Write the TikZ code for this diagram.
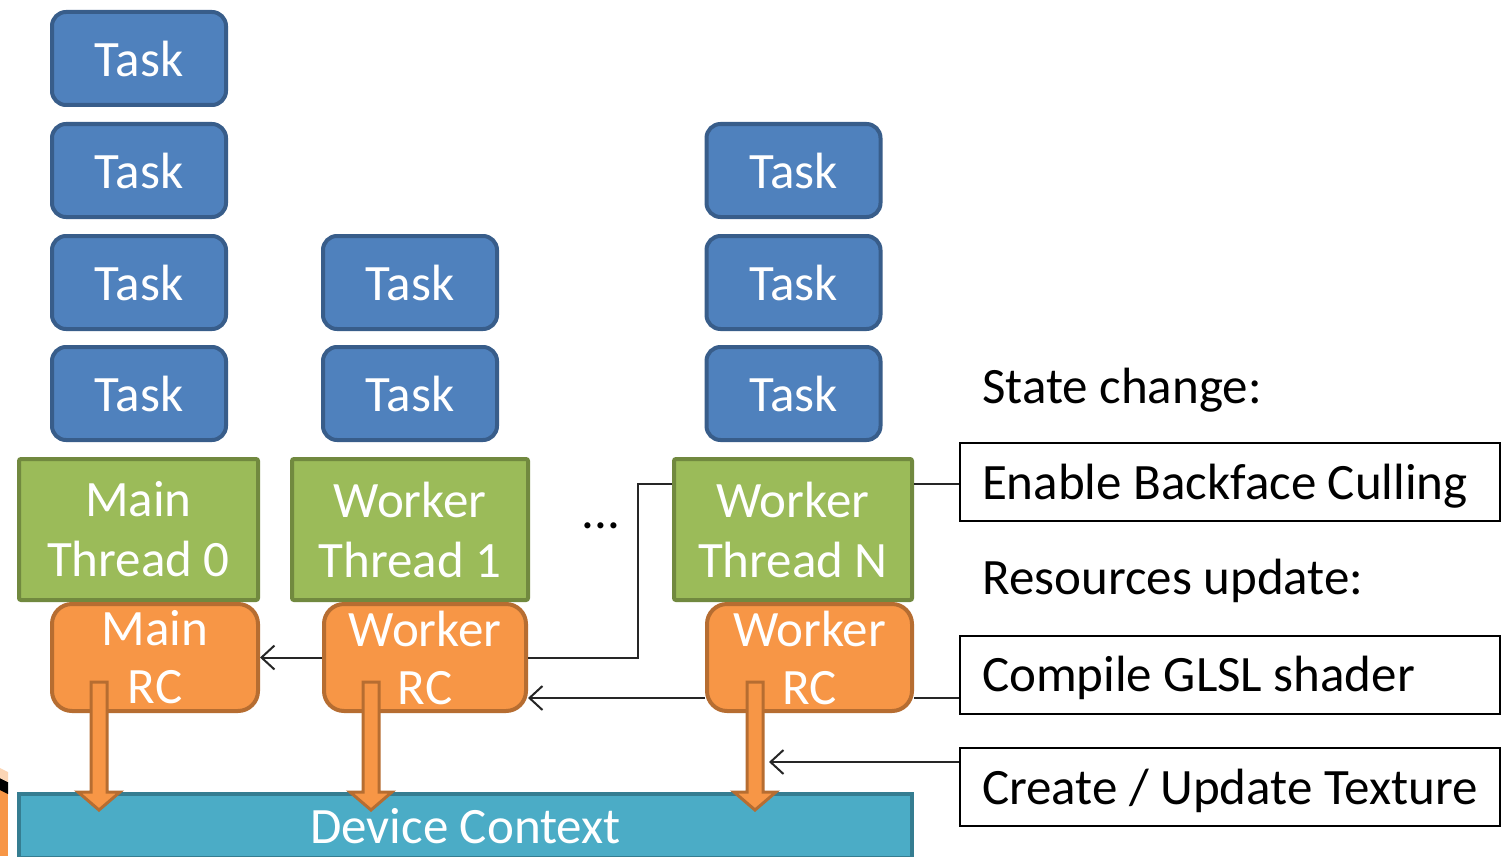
\documentclass[tikz,border=0pt]{standalone}
\usepackage{fontspec}
\setmainfont{Carlito}
\usetikzlibrary{arrows.meta}
\definecolor{taskfill}{HTML}{4F81BD}
\definecolor{taskdraw}{HTML}{385D8A}
\definecolor{thrfill}{HTML}{9BBB59}
\definecolor{thrdraw}{HTML}{71893F}
\definecolor{rcfill}{HTML}{F79646}
\definecolor{rcdraw}{HTML}{B66D31}
\definecolor{dcfill}{HTML}{4BACC6}
\definecolor{dcdraw}{HTML}{357D91}
\definecolor{lnc}{HTML}{262626}
\definecolor{peach}{HTML}{FBD5B5}
\begin{document}
\begin{tikzpicture}[x=1pt,y=-1pt,
  bigfont/.style={font=\fontsize{51}{60}\selectfont},
  task/.style={bigfont, draw=taskdraw, fill=taskfill, line width=4pt, rounded corners=14pt,
    minimum width=174pt, minimum height=93pt, text=white, inner sep=0pt},
  thread/.style={bigfont, draw=thrdraw, fill=thrfill, line width=4pt, rounded corners=2pt,
    minimum height=141pt, text=white, align=center, inner sep=0pt},
  rcbox/.style={font=\fontsize{51}{58}\selectfont, draw=rcdraw, fill=rcfill, line width=4pt, rounded corners=20pt,
    minimum height=107pt, text=white, align=center, inner sep=0pt},
  dcbox/.style={bigfont, draw=dcdraw, fill=dcfill, line width=4pt, minimum width=893pt,
    minimum height=64pt, text=white, inner sep=0pt},
  infobox/.style={bigfont, draw=black, fill=white, line width=2pt, anchor=west,
    text width=496pt, inner xsep=22pt, inner ysep=0pt, minimum height=78pt, align=flush left,
    text height=34pt, text depth=0pt},
  label/.style={bigfont, anchor=base west, inner sep=0pt},
  conn/.style={draw=lnc, line width=2pt},
  tip/.style={-{Straight Barb[length=13pt,width=24pt,line width=2pt]}},
  bigarrow/.style={draw=rcdraw, fill=rcfill, line width=3pt, line join=miter}
]
\useasboundingbox (0,0) rectangle (1503,856);
\fill[white] (0,0) rectangle (1503,856);

% corner decoration
\fill[rcfill] (0,790) rectangle (8,856);
\fill[black] (0,778) -- (8,782) -- (8,794) -- (0,790) -- cycle;
\fill[peach] (0,768) -- (8,772) -- (8,782) -- (0,778) -- cycle;

% task stacks
\node[task] (t11) at (139,58.5) {Task};
\node[task] (t12) at (139,170.5) {Task};
\node[task] (t13) at (139,282.5) {Task};
\node[task] (t14) at (139,393.5) {Task};
\node[task] (t23) at (410,282.5) {Task};
\node[task] (t24) at (410,393.5) {Task};
\node[task] (t32) at (793.5,170.5) {Task};
\node[task] (t33) at (793.5,282.5) {Task};
\node[task] (t34) at (793.5,393.5) {Task};

% threads
\node[thread, minimum width=239pt] (mt) at (138.5,529.5) {Main\\Thread 0};
\node[thread, minimum width=236pt] (wt1) at (410,529.5) {Worker\\Thread 1};
\node[thread, minimum width=238pt] (wtn) at (793,529.5) {Worker\\Thread N};
\node[bigfont, inner sep=0pt] (dots) at (601,526) {...};

% device context
\node[dcbox] (dc) at (465.5,826) {Device Context};

% render contexts
\node[rcbox, minimum width=206pt] (mrc) at (155,657.5) {Main\\RC};
\node[rcbox, minimum width=202pt] (wrc1) at (425,657.5) {Worker\\RC};
\node[rcbox, minimum width=205pt] (wrcn) at (809.5,657.5) {Worker\\RC};

% block arrows RC -> device context
\foreach \xx in {99,371,755}{
  \draw[bigarrow] (\xx-8,682) -- (\xx+8,682) -- (\xx+8,792) -- (\xx+21,792)
    -- (\xx,810) -- (\xx-21,792) -- (\xx-8,792) -- cycle;
}

% right-hand info
\node[label] (sc) at (982,403) {State change:};
\node[infobox] (ebc) at (959,482) {\mbox{Enable Backface Culling}};
\node[label] (ru) at (982,594) {Resources update:};
\node[infobox] (cgs) at (959,674.5) {\mbox{Compile GLSL shader}};
\node[infobox] (cut) at (959,787) {\mbox{Create / Update Texture}};

% connectors
\coordinate (k1) at (638,484);
\coordinate (tx) at (769,762);
\draw[conn,tip] (wrc1.west) -- (mrc.east);
\draw[conn] (wtn.west |- k1) -- (k1) |- (wrc1.east);
\draw[conn,tip] (wrcn.west |- 0,698) -- (wrc1.east |- 0,698);
\draw[conn] (ebc.west |- k1) -- (wtn.east |- k1);
\draw[conn] (cgs.west |- 0,698) -- (wrcn.east |- 0,698);
\draw[conn,tip] (cut.west |- tx) -- (tx);
\end{tikzpicture}
\end{document}
